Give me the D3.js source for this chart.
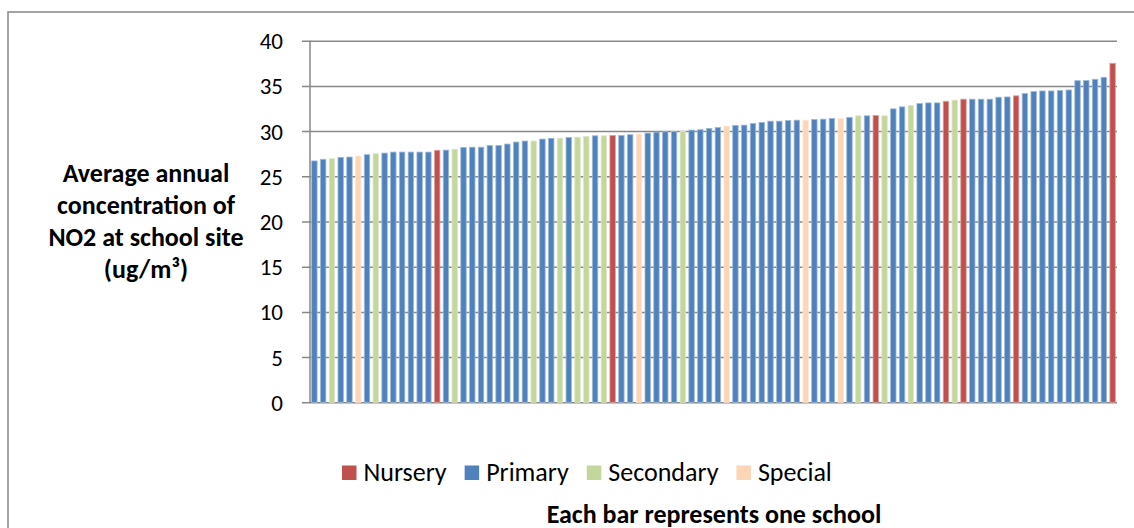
<!DOCTYPE html>
<html>
<head>
<meta charset="utf-8">
<script src="https://cdn.jsdelivr.net/npm/d3@7"></script>
<style>
  html, body { margin: 0; padding: 0; background: #ffffff; }
  svg { display: block; }
  text { font-family: Carlito, Calibri, Lato, "Noto Sans", sans-serif; fill: #000; }
</style>
</head>
<body>
<svg id="chart" width="1134" height="528"></svg>
<script>
// Average annual NO2 concentration per school, sorted ascending
const concentrations = [
  26.70, 26.88, 26.95, 27.10, 27.13, 27.24, 27.39, 27.50, 27.57, 27.68,
  27.68, 27.68, 27.68, 27.68, 27.87, 27.90, 28.00, 28.20, 28.22, 28.22,
  28.42, 28.42, 28.57, 28.79, 28.90, 28.90, 29.12, 29.20, 29.22, 29.30,
  29.33, 29.42, 29.48, 29.48, 29.52, 29.52, 29.60, 29.67, 29.78, 29.89,
  29.93, 29.96, 29.96, 30.11, 30.15, 30.30, 30.40, 30.55, 30.62, 30.66,
  30.85, 30.96, 31.10, 31.10, 31.18, 31.21, 31.21, 31.29, 31.32, 31.40,
  31.40, 31.52, 31.69, 31.69, 31.73, 31.69, 32.46, 32.68, 32.83, 33.05,
  33.12, 33.12, 33.30, 33.42, 33.53, 33.53, 33.53, 33.53, 33.75, 33.78,
  33.90, 34.15, 34.37, 34.44, 34.44, 34.48, 34.55, 35.58, 35.60, 35.73,
  35.95, 37.50
];

// School type of each bar (same order as concentrations)
const schoolTypes = [
  "Primary", "Primary", "Secondary", "Primary", "Primary", "Special", "Primary", "Secondary", "Primary", "Primary",
  "Primary", "Primary", "Primary", "Primary", "Nursery", "Primary", "Secondary", "Primary", "Primary", "Primary",
  "Primary", "Primary", "Primary", "Primary", "Primary", "Secondary", "Primary", "Primary", "Secondary", "Primary",
  "Secondary", "Secondary", "Primary", "Secondary", "Nursery", "Primary", "Primary", "Special", "Primary", "Primary",
  "Primary", "Primary", "Secondary", "Primary", "Primary", "Primary", "Primary", "Special", "Primary", "Primary",
  "Primary", "Primary", "Primary", "Primary", "Primary", "Primary", "Special", "Primary", "Primary", "Primary",
  "Special", "Primary", "Secondary", "Primary", "Nursery", "Secondary", "Primary", "Primary", "Secondary", "Primary",
  "Primary", "Primary", "Nursery", "Secondary", "Nursery", "Primary", "Primary", "Primary", "Primary", "Primary",
  "Nursery", "Primary", "Primary", "Primary", "Primary", "Primary", "Primary", "Primary", "Primary", "Primary",
  "Primary", "Nursery"
];

const legendTypes = ["Nursery", "Primary", "Secondary", "Special"];
const typeColors = ["#C0504D", "#4F81BD", "#C3D69B", "#FCD5B5"];
const yTicks = [0, 5, 10, 15, 20, 25, 30, 35, 40];
const yTitleLines = ["Average annual", "concentration of", "NO2 at school site", "(ug/m\u00B3)"];
const xTitle = "Each bar represents one school";

const svg = d3.select("#chart");
const plot = { left: 310, right: 1117, top: 40.7, bottom: 402.3 };
const gridColor = "#878787";

const color = d3.scaleOrdinal().domain(legendTypes).range(typeColors);
const x = d3.scaleBand()
  .domain(d3.range(concentrations.length))
  .range([plot.left, plot.right])
  .paddingInner(0.38)
  .paddingOuter(0.19);
const y = d3.scaleLinear().domain([0, 40]).range([plot.bottom, plot.top]);

// outer chart frame
svg.append("rect")
  .attr("x", 8).attr("y", 12)
  .attr("width", 1200).attr("height", 600)
  .attr("fill", "none")
  .attr("stroke", gridColor)
  .attr("stroke-width", 1.5);

// horizontal gridlines with tick labels
const yAxis = d3.axisLeft(y)
  .tickValues(yTicks)
  .tickSize(-(plot.right - plot.left) - 8)
  .tickPadding(18)
  .tickFormat(d3.format("d"));

const gy = svg.append("g")
  .attr("transform", `translate(${plot.right},0)`)
  .call(yAxis);
gy.select(".domain").remove();
gy.selectAll(".tick line")
  .attr("x1", 0)
  .attr("x2", -(plot.right - plot.left) - 8)
  .attr("stroke", gridColor)
  .attr("stroke-width", 1.5);
gy.selectAll(".tick text")
  .attr("x", -(plot.right - plot.left) - 27)
  .attr("dy", "0.35em")
  .attr("text-anchor", "end")
  .style("font-size", "23px")
  .style("font-family", null);

// bars
svg.append("g")
  .selectAll("rect")
  .data(concentrations)
  .join("rect")
  .attr("x", (d, i) => x(i))
  .attr("width", x.bandwidth())
  .attr("y", d => y(d))
  .attr("height", d => y(0) - y(d))
  .attr("fill", (d, i) => color(schoolTypes[i]))
  .attr("stroke", (d, i) => d3.interpolateRgb(color(schoolTypes[i]), "#ffffff")(0.45))
  .attr("stroke-width", 0.8);

// vertical axis line
svg.append("line")
  .attr("x1", plot.left).attr("x2", plot.left)
  .attr("y1", y(40)).attr("y2", y(0))
  .attr("stroke", gridColor)
  .attr("stroke-width", 1.5);

// y-axis title
const yTitle = svg.append("text")
  .attr("text-anchor", "middle")
  .style("font-size", "26px")
  .style("font-weight", "bold");
yTitleLines.forEach((line, i) => {
  yTitle.append("tspan")
    .attr("x", 146)
    .attr("y", 182 + i * 32)
    .text(line);
});

// legend
const legend = svg.append("g").attr("transform", "translate(342,0)");
let lx = 0;
legendTypes.forEach(t => {
  legend.append("rect")
    .attr("x", lx).attr("y", 465.5)
    .attr("width", 14.5).attr("height", 14.5)
    .attr("fill", color(t));
  const label = legend.append("text")
    .attr("x", lx + 21.5)
    .attr("y", 480.5)
    .style("font-size", "26px")
    .text(t);
  lx += 21.5 + label.node().getComputedTextLength() + 18;
});

// x-axis title
svg.append("text")
  .attr("x", 714)
  .attr("y", 523)
  .attr("text-anchor", "middle")
  .style("font-size", "26px")
  .style("font-weight", "bold")
  .text(xTitle);
</script>
</body>
</html>
